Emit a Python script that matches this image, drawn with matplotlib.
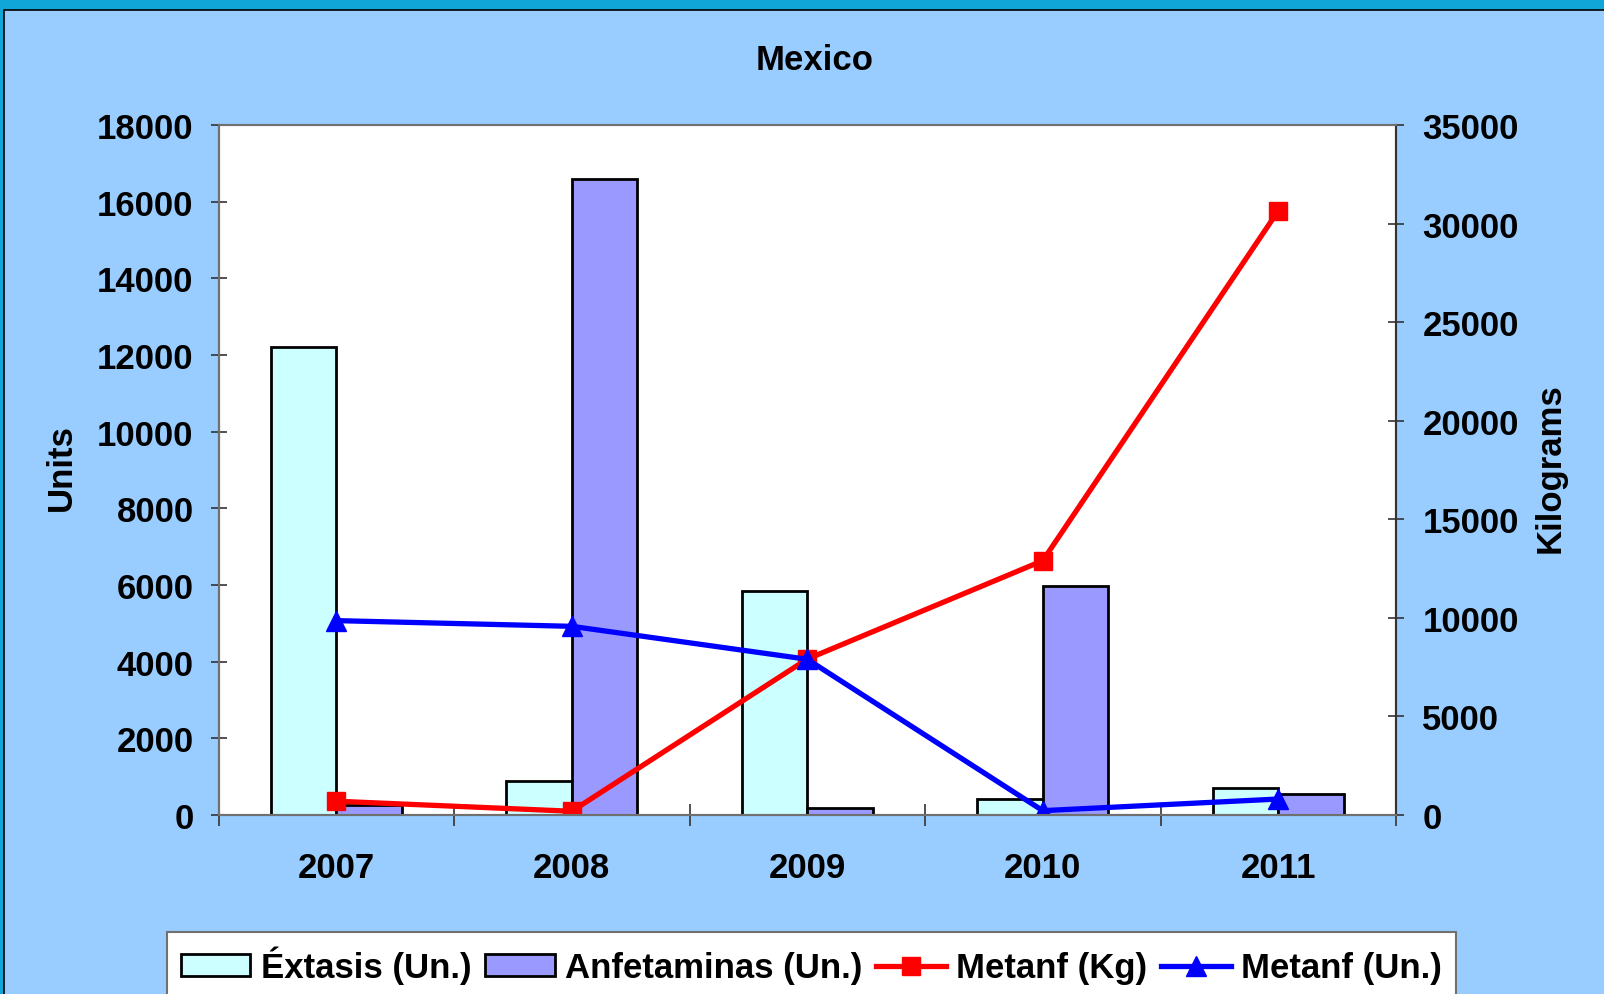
import numpy as np
import matplotlib.pyplot as plt
from matplotlib.patches import Rectangle

plt.rcParams['font.family'] = ['Liberation Sans', 'DejaVu Sans']
plt.rcParams['font.weight'] = 'bold'

years = ['2007', '2008', '2009', '2010', '2011']
extasis = [12200, 900, 5840, 410, 700]          # units, left axis
anfetaminas = [270, 16600, 190, 5980, 550]      # units, left axis
metanf_kg = [700, 190, 7910, 12900, 30650]      # right axis
metanf_un = [9860, 9570, 7900, 220, 810]        # right axis

W, H = 1604, 995
fig = plt.figure(figsize=(W / 100, H / 100), dpi=100)
fig.patch.set_facecolor('#10A6D8')
# light blue panel with thin black edge
fig.patches.append(Rectangle((4 / W, -0.1), 1.2, 1 - 11 / H + 0.1,
                             transform=fig.transFigure, facecolor='#99CCFF',
                             edgecolor='black', lw=1.2, zorder=-10))

ax = fig.add_axes([218.5 / W, 1 - 816 / H, (1396 - 218.5) / W, (816 - 126) / H])
ax.set_facecolor('white')
x = np.arange(len(years))
bw = 0.278
b1 = ax.bar(x - bw / 2, extasis, bw, color='#CCFFFF', edgecolor='black', lw=2,
            label='Éxtasis (Un.)')
b2 = ax.bar(x + bw / 2, anfetaminas, bw, color='#9999FF', edgecolor='black', lw=2,
            label='Anfetaminas (Un.)')
ax.set_xlim(-0.5, 4.5)
ax.set_ylim(0, 18000)
ax.set_yticks(np.arange(0, 18001, 2000))
ax.set_xticks(x)
ax.set_xticklabels(years)
ax.set_xticks(np.arange(-0.5, 4.6, 1), minor=True)
ax.tick_params(axis='x', which='major', length=0, pad=26, labelsize=25)
ax.tick_params(axis='x', which='minor', direction='inout', length=16, width=1.2,
               color='#333333')
ax.tick_params(axis='y', direction='inout', length=12, width=1.2, labelsize=25,
               pad=12, color='#333333')
for s in ax.spines.values():
    s.set_color('#707070')
    s.set_linewidth(1.5)
ax.spines['left'].set_color('#333333')

ax2 = ax.twinx()
l1, = ax2.plot(x, metanf_kg, color='red', lw=3.8, marker='s', ms=13,
               label='Metanf (Kg)')
l2, = ax2.plot(x, metanf_un, color='blue', lw=3.8, marker='^', ms=15,
               label='Metanf (Un.)')
ax2.set_ylim(0, 35000)
ax2.set_yticks(np.arange(0, 35001, 5000))
ax2.tick_params(axis='y', direction='inout', length=12, width=1.2, labelsize=25,
                pad=13, color='#333333')
for s in ax2.spines.values():
    s.set_color('#707070')
    s.set_linewidth(1.5)
ax2.spines['right'].set_color('#333333')

fig.text(815 / W, 1 - 60 / H, 'Mexico', ha='center', va='center', fontsize=25,
         fontweight='bold')
fig.text(61 / W, 1 - 468 / H, 'Units', rotation=90, ha='center', va='center',
         fontsize=25, fontweight='bold')
fig.text(1550 / W, 1 - 468 / H, 'Kilograms', rotation=90, ha='center', va='center',
         fontsize=25, fontweight='bold')

leg = fig.legend([b1, b2, l1, l2],
                 ['Éxtasis (Un.)', 'Anfetaminas (Un.)', 'Metanf (Kg)', 'Metanf (Un.)'],
                 loc='upper left', bbox_to_anchor=(167 / W, 1 - 933 / H), ncol=4,
                 fontsize=25, frameon=True, fancybox=False, handlelength=2.0,
                 handleheight=0.6, handletextpad=0.3, columnspacing=0.4,
                 borderpad=0.4, borderaxespad=0)
leg.get_frame().set_edgecolor('#707070')
leg.get_frame().set_linewidth(1.5)
leg.get_frame().set_facecolor('white')
leg.get_frame().set_alpha(1)

fig.savefig('out.png', dpi=100, facecolor=fig.get_facecolor())
